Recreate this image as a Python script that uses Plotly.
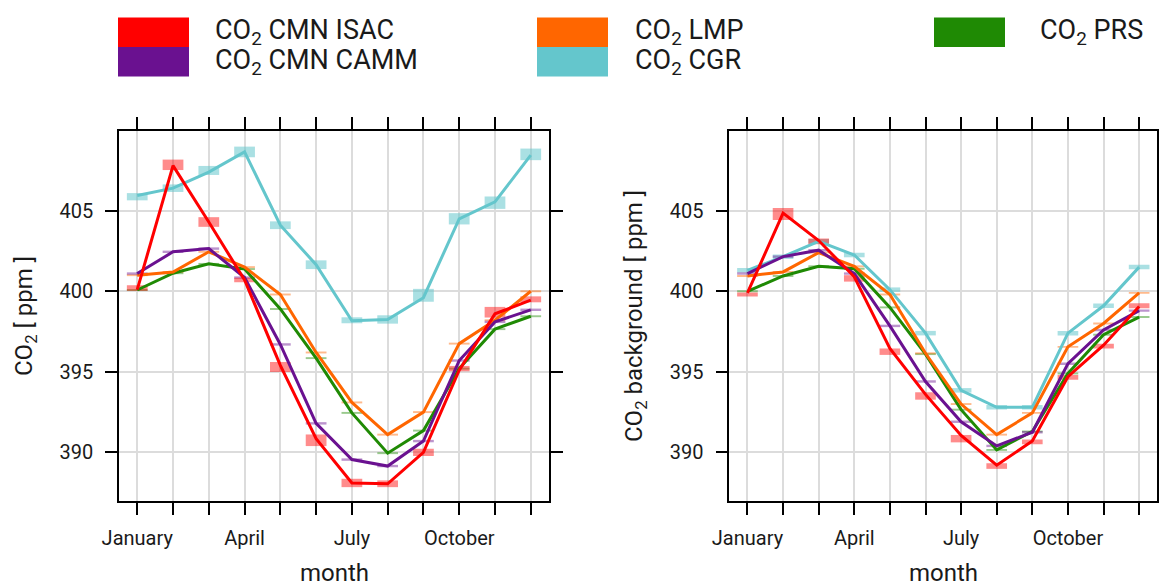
import plotly.graph_objects as go

W, H = 1159, 586

months = list(range(1, 13))
label_months = [1, 4, 7, 10]
tick_text = ["January", "April", "July", "October"]
y_ticks = [390, 395, 400, 405]

# ---- left panel: CO2 [ppm] ----
L_isac = [400.1, 407.8, 404.3, 400.7, 395.4, 390.85, 388.1, 388.05, 390.0, 395.1, 398.6, 399.45]
L_isac_box = [400.2, 407.85, 404.3, 400.7, 395.3, 390.75, 388.1, 388.05, 390.0, 395.2, 398.7, 399.5]
L_isac_unc = [0.35, 0.65, 0.6, 0.28, 0.62, 0.72, 0.52, 0.42, 0.45, 0.33, 0.66, 0.37]
L_camm = [401.1, 402.45, 402.65, 400.85, 396.7, 391.8, 389.55, 389.15, 390.7, 395.7, 398.1, 398.85]
L_lmp = [401.0, 401.2, 402.45, 401.5, 399.8, 396.2, 393.1, 391.1, 392.5, 396.75, 398.2, 400.0]
L_cgr = [405.95, 406.4, 407.4, 408.65, 404.1, 401.65, 398.17, 398.25, 399.6, 404.5, 405.55, 408.45]
L_cgr_box = [405.87, 406.4, 407.5, 408.65, 404.1, 401.65, 398.2, 398.25, 399.75, 404.5, 405.5, 408.5]
L_cgr_unc = [0.45, 0.47, 0.56, 0.66, 0.48, 0.54, 0.37, 0.52, 0.8, 0.7, 0.77, 0.72]
L_prs = [400.08, 401.12, 401.7, 401.38, 398.9, 395.85, 392.45, 389.95, 391.35, 395.2, 397.65, 398.45]

# ---- right panel: CO2 background [ppm] ----
R_isac = [399.9, 404.85, 403.15, 400.9, 396.45, 393.6, 391.05, 389.2, 390.7, 394.7, 396.65, 399.05]
R_isac_box = [399.8, 404.8, 403.1, 400.8, 396.25, 393.5, 390.85, 389.15, 390.65, 394.65, 396.6, 399.1]
R_isac_unc = [0.25, 0.75, 0.35, 0.4, 0.4, 0.46, 0.46, 0.35, 0.3, 0.3, 0.3, 0.3]
R_camm = [401.1, 402.15, 402.55, 401.1, 397.85, 394.4, 391.9, 390.4, 391.25, 395.5, 397.6, 398.8]
R_lmp = [400.95, 401.2, 402.4, 401.55, 399.8, 396.15, 393.0, 391.1, 392.45, 396.55, 398.0, 399.9]
R_cgr = [401.3, 402.15, 403.1, 402.25, 400.1, 397.4, 393.85, 392.8, 392.8, 397.4, 399.1, 401.5]
R_prs = [400.0, 400.95, 401.55, 401.4, 399.0, 396.1, 392.65, 390.15, 391.3, 394.9, 397.3, 398.4]

colors = {"CMN ISAC": "#ff0000", "CMN CAMM": "#6a1190", "LMP": "#ff6600",
          "CGR": "#64c6cc", "PRS": "#1f8a04"}
box_rgba = {"CMN ISAC": "rgba(255,0,0,0.45)", "CMN CAMM": "rgba(106,17,144,0.45)",
            "LMP": "rgba(255,102,0,0.45)", "CGR": "rgba(100,198,204,0.55)",
            "PRS": "rgba(31,138,4,0.45)"}


def const(v):
    return [v] * 12


panels = [
    ("x", "y", {
        "CGR": (L_cgr, L_cgr_box, L_cgr_unc),
        "PRS": (L_prs, L_prs, const(0.12)),
        "LMP": (L_lmp, L_lmp, const(0.12)),
        "CMN CAMM": (L_camm, L_camm, const(0.15)),
        "CMN ISAC": (L_isac, L_isac_box, L_isac_unc),
    }),
    ("x2", "y2", {
        "CGR": (R_cgr, R_cgr, const(0.28)),
        "PRS": (R_prs, R_prs, const(0.12)),
        "LMP": (R_lmp, R_lmp, const(0.12)),
        "CMN CAMM": (R_camm, R_camm, const(0.15)),
        "CMN ISAC": (R_isac, R_isac_box, R_isac_unc),
    }),
]

fig = go.Figure()
for xa, ya, series in panels:
    for name, (line, box, unc) in series.items():
        fig.add_trace(go.Bar(
            x=months, y=unc, base=[c - u / 2 for c, u in zip(box, unc)],
            width=0.58, marker=dict(color=box_rgba[name], line=dict(width=0)),
            xaxis=xa, yaxis=ya, showlegend=False, hoverinfo="skip"))
    for name, (line, box, unc) in series.items():
        fig.add_trace(go.Scatter(
            x=months, y=line, mode="lines", line=dict(color=colors[name], width=3),
            xaxis=xa, yaxis=ya, showlegend=False, name="CO2 " + name))

font_fam = "Roboto, Arial, sans-serif"
txt_col = "#1a1a1a"
ax_common = dict(showline=True, linecolor="black", linewidth=1.5, mirror="ticks",
                 ticks="outside", ticklen=12, tickwidth=1.5, tickcolor="black",
                 showgrid=True, gridcolor="#dcdcdc", gridwidth=1.5, zeroline=False,
                 automargin=False,
                 tickfont=dict(family=font_fam, size=20, color=txt_col))
x_minor = dict(tick0=1, dtick=1, ticks="outside", ticklen=12, tickwidth=1.5,
               tickcolor="black", showgrid=True, gridcolor="#dcdcdc", gridwidth=1.5)


def px_x(p):
    return p / W


def px_y(p):
    return 1 - p / H


xdom1 = [px_x(119), px_x(549)]
xdom2 = [px_x(729.3), px_x(1157.3)]
ydom = [px_y(501), px_y(131)]
yrange = [386.98, 409.95]
xrange = [0.49, 12.51]

fig.update_layout(
    width=W, height=H, margin=dict(l=0, r=0, t=0, b=0, autoexpand=False),
    paper_bgcolor="white", plot_bgcolor="white", barmode="overlay",
    font=dict(family=font_fam, color=txt_col),
    xaxis=dict(domain=xdom1, range=xrange, tickvals=label_months, ticktext=tick_text,
               anchor="y", ticklabelstandoff=6, minor=x_minor, **ax_common),
    yaxis=dict(domain=ydom, range=yrange, tickvals=y_ticks, anchor="x",
               ticklabelstandoff=8, **ax_common),
    xaxis2=dict(domain=xdom2, range=xrange, tickvals=label_months, ticktext=tick_text,
                anchor="y2", ticklabelstandoff=6, minor=x_minor, **ax_common),
    yaxis2=dict(domain=ydom, range=yrange, tickvals=y_ticks, anchor="x2",
                ticklabelstandoff=8, **ax_common),
    showlegend=False,
)

ann = []
ann.append(dict(text="CO<sub>2</sub> [ ppm ]", x=px_x(25), y=px_y(316), xref="paper", yref="paper",
                textangle=-90, showarrow=False, xanchor="center", yanchor="middle",
                font=dict(size=24, family=font_fam, color=txt_col)))
ann.append(dict(text="CO<sub>2</sub> background [ ppm ]", x=px_x(635), y=px_y(316), xref="paper",
                yref="paper", textangle=-90, showarrow=False, xanchor="center", yanchor="middle",
                font=dict(size=24, family=font_fam, color=txt_col)))
for cx in [334, 943]:
    ann.append(dict(text="month", x=px_x(cx), y=px_y(573), xref="paper", yref="paper",
                    showarrow=False, xanchor="center", yanchor="middle",
                    font=dict(size=24, family=font_fam, color=txt_col)))

legend_layout = [
    ("CMN ISAC", 118, 17.5, 213, 32),
    ("CMN CAMM", 118, 47, 213, 62),
    ("LMP", 537, 17.5, 633, 32),
    ("CGR", 537, 47, 633, 62),
    ("PRS", 934, 17.5, 1038, 32),
]
shapes = []
for name, sx, sy, tx, ty in legend_layout:
    shapes.append(dict(type="rect", xref="paper", yref="paper",
                       x0=px_x(sx), x1=px_x(sx + 71), y0=px_y(sy), y1=px_y(sy + 29.5),
                       fillcolor=colors[name], line=dict(width=0)))
    ann.append(dict(text="CO<sub>2</sub> " + name, x=px_x(tx), y=px_y(ty), xref="paper",
                    yref="paper", showarrow=False, xanchor="left", yanchor="middle",
                    font=dict(size=27, family=font_fam, color=txt_col)))

fig.update_layout(annotations=ann, shapes=shapes)
fig.write_html("out.html", config={"displayModeBar": False},
               post_script="document.body.style.margin='0';")
